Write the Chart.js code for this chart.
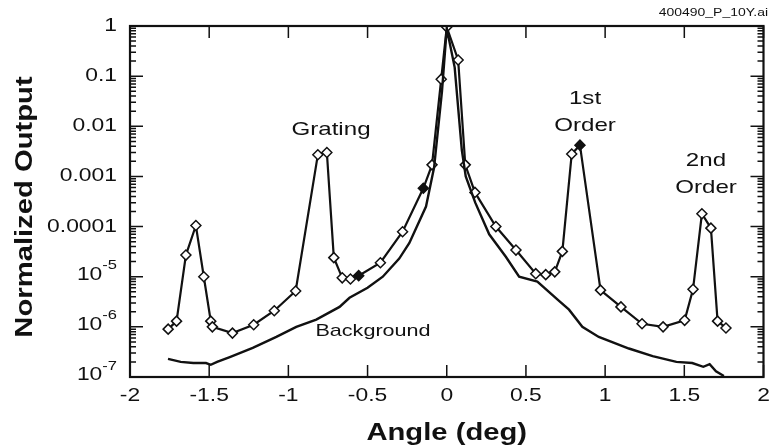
<!DOCTYPE html>
<html>
<head>
<meta charset="utf-8">
<script src="https://cdn.jsdelivr.net/npm/chart.js@4.4.0/dist/chart.umd.min.js"></script>
<style>
  html, body { margin: 0; padding: 0; background: #fff; }
  #wrap { width: 770px; height: 447px; }
</style>
</head>
<body>
<div id="wrap"><canvas id="myChart"></canvas></div>
<script>
// measured scan (diamonds)
const angles = [-1.759, -1.706, -1.647, -1.584, -1.534, -1.490, -1.480, -1.353, -1.219, -1.089,
  -0.954, -0.814, -0.757, -0.713, -0.660, -0.608, -0.556, -0.419, -0.279, -0.148,
  -0.093, -0.035, 0.000, 0.072, 0.117, 0.178, 0.310, 0.437, 0.562, 0.625,
  0.682, 0.730, 0.789, 0.841, 0.971, 1.100, 1.233, 1.366, 1.502, 1.555,
  1.611, 1.668, 1.710, 1.763];
const output = [9e-7, 1.3e-6, 2.7e-5, 1.05e-4, 1.0e-5, 1.3e-6, 1.0e-6, 7.5e-7, 1.1e-6, 2.1e-6,
  5.2e-6, 2.7e-3, 3.0e-3, 2.4e-5, 9.5e-6, 9.0e-6, 1.05e-5, 1.9e-5, 7.9e-5, 5.8e-4,
  1.7e-3, 0.087, 0.95, 0.21, 1.7e-3, 4.8e-4, 1.0e-4, 3.4e-5, 1.15e-5, 1.1e-5,
  1.25e-5, 3.2e-5, 2.8e-3, 4.2e-3, 5.4e-6, 2.5e-6, 1.15e-6, 1.0e-6, 1.35e-6, 5.6e-6,
  1.8e-4, 9.3e-5, 1.3e-6, 9.5e-7];
const filledAngles = [-0.556, -0.148, 0.841];

// background trace (no markers)
const bgAngles = [-1.76, -1.68, -1.60, -1.52, -1.49, -1.45, -1.37, -1.225, -1.076, -0.95,
  -0.824, -0.677, -0.614, -0.50, -0.404, -0.30, -0.236, -0.131, -0.08, -0.03,
  0.0, 0.05, 0.095, 0.12, 0.18, 0.268, 0.373, 0.457, 0.572, 0.70,
  0.772, 0.856, 0.96, 1.15, 1.30, 1.45, 1.55, 1.62, 1.66, 1.70, 1.75];
const bgOutput = [2.3e-7, 2.0e-7, 1.9e-7, 1.9e-7, 1.75e-7, 2.0e-7, 2.5e-7, 3.8e-7, 6.3e-7, 1.0e-6,
  1.4e-6, 2.5e-6, 3.8e-6, 6e-6, 1e-5, 2.3e-5, 4.7e-5, 2.5e-4, 1.5e-3, 0.05,
  0.9, 0.15, 3.4e-3, 1e-3, 3e-4, 7e-5, 2.5e-5, 1e-5, 8e-6, 3.5e-6,
  2.2e-6, 1.0e-6, 6.3e-7, 3.7e-7, 2.6e-7, 2.0e-7, 1.9e-7, 1.6e-7, 1.8e-7, 1.3e-7, 1.05e-7];

const xTicks = [-2, -1.5, -1, -0.5, 0, 0.5, 1, 1.5, 2];
const xTickLabels = ["-2", "-1.5", "-1", "-0.5", "0", "0.5", "1", "1.5", "2"];
const yTicks = [1e-7, 1e-6, 1e-5, 1e-4, 1e-3, 1e-2, 1e-1, 1];
const yTickLabels = ["10^-7", "10^-6", "10^-5", "0.0001", "0.001", "0.01", "0.1", "1"];

const FONT = "'Liberation Sans', Arial, Helvetica, sans-serif";
const STRETCH = 1.27;

function wideText(ctx, str, x, y, font, align, rot) {
  ctx.save();
  ctx.font = font;
  ctx.translate(x, y);
  if (rot) ctx.rotate(rot);
  ctx.scale(STRETCH, 1);
  ctx.textAlign = align;
  ctx.textBaseline = "middle";
  ctx.fillStyle = "#111";
  ctx.fillText(str, 0, 0);
  ctx.restore();
}

const framePlugin = {
  id: "frame",
  afterDraw(chart) {
    const ctx = chart.ctx;
    const a = chart.chartArea;
    const xs = chart.scales.x, ys = chart.scales.y;
    ctx.save();
    ctx.strokeStyle = "#111";
    ctx.lineWidth = 2.2;
    ctx.strokeRect(a.left, a.top, a.right - a.left, a.bottom - a.top);

    // x ticks inward, top and bottom
    ctx.lineWidth = 1.5;
    xTicks.forEach(v => {
      const px = xs.getPixelForValue(v);
      ctx.beginPath();
      ctx.moveTo(px, a.bottom); ctx.lineTo(px, a.bottom - 12);
      ctx.moveTo(px, a.top); ctx.lineTo(px, a.top + 12);
      ctx.stroke();
    });
    // y ticks inward, left and right, with log minors
    yTicks.forEach((v, i) => {
      const py = ys.getPixelForValue(v);
      ctx.beginPath();
      ctx.moveTo(a.left, py); ctx.lineTo(a.left + 13, py);
      ctx.moveTo(a.right, py); ctx.lineTo(a.right - 13, py);
      ctx.stroke();
      if (i < yTicks.length - 1) {
        for (let m = 2; m <= 9; m++) {
          const my = ys.getPixelForValue(v * m);
          ctx.beginPath();
          ctx.moveTo(a.left, my); ctx.lineTo(a.left + 6, my);
          ctx.moveTo(a.right, my); ctx.lineTo(a.right - 6, my);
          ctx.stroke();
        }
      }
    });
    ctx.restore();

    // tick labels
    xTicks.forEach((v, i) => {
      wideText(ctx, xTickLabels[i], xs.getPixelForValue(v), a.bottom + 19, "18px " + FONT, "center");
    });
    yTicks.forEach((v, i) => {
      const py = ys.getPixelForValue(v);
      const lab = yTickLabels[i];
      const right = a.left - 13;
      if (lab.indexOf("^") > -1) {
        const parts = lab.split("^");
        ctx.save();
        ctx.font = "13px " + FONT;
        const w = ctx.measureText(parts[1]).width * STRETCH;
        ctx.restore();
        wideText(ctx, parts[1], right, py - 11, "13px " + FONT, "right");
        wideText(ctx, parts[0], right - w, py - 2, "18px " + FONT, "right");
      } else {
        wideText(ctx, lab, right, py, "18px " + FONT, "right");
      }
    });

    // axis titles
    wideText(ctx, "Angle (deg)", (a.left + a.right) / 2, 434, "bold 23px " + FONT, "center");
    wideText(ctx, "Normalized Output", 26, 207, "bold 23px " + FONT, "center", -Math.PI / 2);

    // annotations
    wideText(ctx, "Grating", 331, 130, "19px " + FONT, "center");
    wideText(ctx, "1st", 585, 99, "19px " + FONT, "center");
    wideText(ctx, "Order", 585, 126, "19px " + FONT, "center");
    wideText(ctx, "2nd", 706, 161, "19px " + FONT, "center");
    wideText(ctx, "Order", 706, 188, "19px " + FONT, "center");
    wideText(ctx, "Background", 373, 331, "17px " + FONT, "center");
    wideText(ctx, "400490_P_10Y.ai", 768, 13, "11px " + FONT, "right");
  }
};

const ctx = document.getElementById("myChart");

new Chart(ctx, {
  type: "scatter",
  data: {
    datasets: [
      {
        label: "Background",
        data: bgAngles.map((x, i) => ({ x: x, y: bgOutput[i] })),
        showLine: true,
        borderColor: "#111",
        borderWidth: 2.4,
        pointRadius: 0,
        tension: 0
      },
      {
        label: "Measured",
        data: angles.map((x, i) => ({ x: x, y: output[i] })),
        showLine: true,
        borderColor: "#111",
        borderWidth: 2.2,
        tension: 0,
        pointStyle: "rectRot",
        pointRadius: 5,
        pointBorderWidth: 1.5,
        pointBorderColor: "#111",
        pointBackgroundColor: c => filledAngles.includes(angles[c.dataIndex]) ? "#111" : "#fff"
      }
    ]
  },
  options: {
    responsive: true,
    maintainAspectRatio: false,
    animation: false,
    layout: { padding: { top: 26, right: 5, left: 0, bottom: 0 } },
    plugins: {
      legend: { display: false },
      tooltip: { enabled: false }
    },
    scales: {
      x: {
        type: "linear",
        min: -2,
        max: 2,
        grid: { display: false },
        border: { display: false },
        ticks: { display: false },
        afterFit: s => { s.height = 70; }
      },
      y: {
        type: "logarithmic",
        min: 1e-7,
        max: 1,
        grid: { display: false },
        border: { display: false },
        ticks: { display: false },
        afterFit: s => { s.width = 130; }
      }
    }
  },
  plugins: [framePlugin]
});
</script>
</body>
</html>
